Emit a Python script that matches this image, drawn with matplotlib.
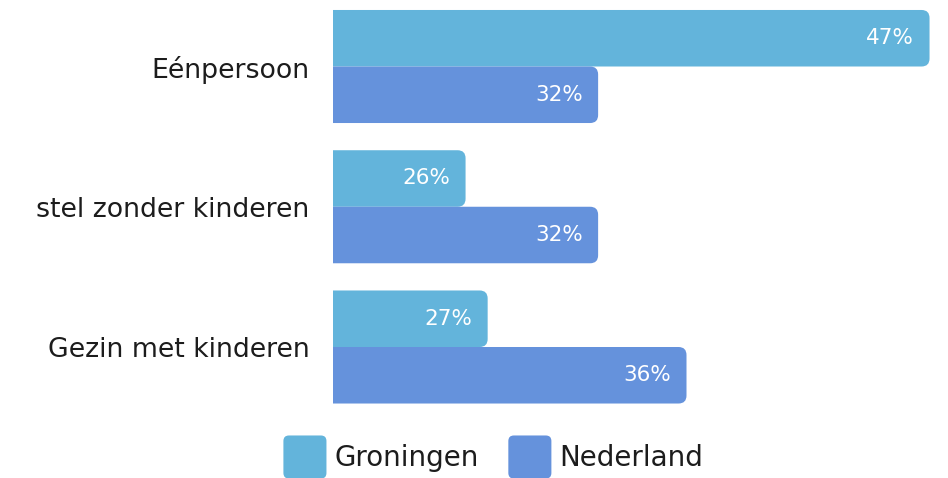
"""Household composition: Groningen versus Nederland."""

import matplotlib

matplotlib.use("Agg")
import matplotlib.pyplot as plt
from matplotlib.legend_handler import HandlerPatch
from matplotlib.patches import FancyBboxPatch, Patch

categories = ["Eénpersoon", "stel zonder kinderen", "Gezin met kinderen"]
series_names = ["Groningen", "Nederland"]
groningen = [47, 26, 27]
nederland = [32, 32, 36]

colors = ["#63b4db", "#6592dc"]
text_color = "#1c1c1c"
plt.rcParams["font.family"] = ["DejaVu Sans"]

W, H, DPI = 948, 478, 100
fig = plt.figure(figsize=(W / DPI, H / DPI), dpi=DPI)

# axes box in pixels: left 333, right 945, top 0, bottom 420
ax = fig.add_axes([333 / W, 1 - 420 / H, (945 - 333) / W, 420 / H])
x_min, x_max = 20, 47.7
pitch = 140.25
y_top = -66.5 / pitch
y_bot = (420 - 66.5) / pitch
ax.set_xlim(x_min, x_max)
ax.set_ylim(y_bot, y_top)

bar_h = 0.403
px_per_x = (945 - 333) / (x_max - x_min)
px_per_y = pitch
radius_px = 8
r_x = radius_px / px_per_x
aspect = (radius_px / px_per_y) / r_x

for s, (values, color) in enumerate(zip([groningen, nederland], colors)):
    offset = (s - 0.5) * bar_h
    bars = ax.barh([i + offset for i in range(len(categories))], values,
                   height=bar_h, color=color, left=0)
    for bar, v in zip(bars, values):
        bar.set_visible(False)
        x0, y0 = bar.get_x(), bar.get_y()
        w, h = bar.get_width(), bar.get_height()
        ax.add_patch(FancyBboxPatch(
            (x0, y0), w, h,
            boxstyle=f"round,pad=0,rounding_size={r_x}",
            mutation_aspect=aspect, facecolor=color, edgecolor="none"))
        ax.annotate(f"{v}%", (v, y0 + h / 2), xytext=(-11, 0),
                    textcoords="offset points", ha="right", va="center",
                    color="white", fontsize=15.5)

ax.set_yticks(range(len(categories)))
ax.set_yticklabels(categories, fontsize=19.3, color=text_color)
ax.tick_params(axis="y", length=0, pad=17)
ax.set_xticks([])
for spine in ax.spines.values():
    spine.set_visible(False)


def rounded_handle(legend, orig_handle, xdescent, ydescent, width, height, fontsize):
    # square legend key, as tall as it is wide
    side = width
    return FancyBboxPatch((-xdescent, -ydescent + (height - side) / 2), side, side,
                          boxstyle="round,pad=0,rounding_size=4",
                          facecolor=orig_handle.get_facecolor(), edgecolor="none")


handles = [Patch(facecolor=c, label=n) for c, n in zip(colors, series_names)]
fig.legend(handles=handles, loc="center", bbox_to_anchor=(493.5 / W, 1 - 457 / H),
           ncol=2, frameon=False, fontsize=20, handlelength=1.55, handleheight=1.55,
           handletextpad=0.3, columnspacing=1.05, labelcolor=text_color,
           handler_map={Patch: HandlerPatch(patch_func=rounded_handle)})

fig.savefig("out.png", dpi=DPI)
